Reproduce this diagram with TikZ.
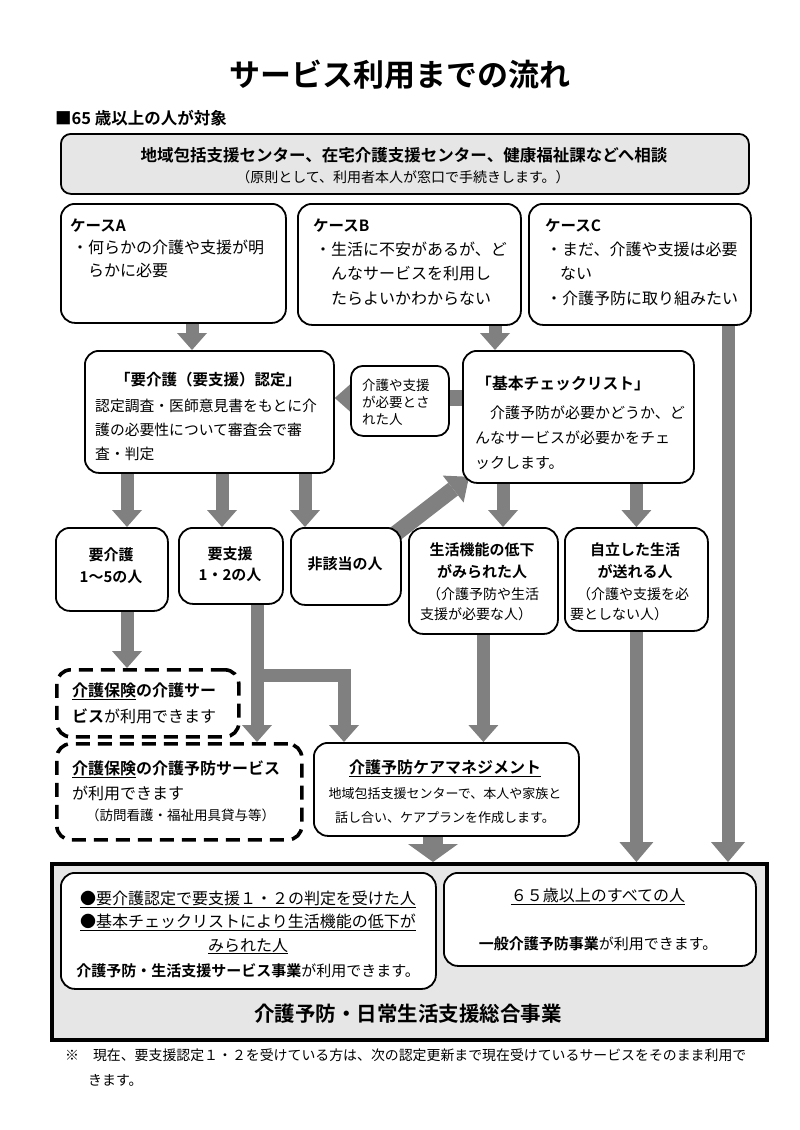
\documentclass[tikz,border=0pt]{standalone}
\usepackage{fontspec}
\setmainfont{Noto Sans CJK JP}[BoldFont={* Bold}]
\usetikzlibrary{arrows.meta}
\definecolor{arrgray}{RGB}{128,128,128}
\definecolor{boxgray}{RGB}{230,230,230}
\newcommand\myfs[2]{\fontsize{#1}{#2}\selectfont}
\pgfdeclarelayer{back}
\pgfdeclarelayer{bg}
\pgfsetlayers{back,bg,main}
\begin{document}
\begin{tikzpicture}[x=1pt,y=-1pt,
  box/.style={draw, line width=1.8pt, rounded corners=14pt, fill=white, inner sep=0pt, anchor=north west},
  dbox/.style={draw, line width=3.6pt, dash pattern=on 14pt off 8pt, rounded corners=14pt, inner sep=0pt, anchor=north west},
  txt/.style={inner sep=0pt, anchor=base west, align=left},
  ctxt/.style={inner sep=0pt, anchor=base, align=center},
  arr/.style={draw=arrgray, line width=13pt, -{Triangle[width=30pt,length=17pt,line width=0pt]}},
  arrL/.style={draw=arrgray, line width=13pt, -{Triangle[width=34pt,length=20pt,line width=0pt]}},
  arrH/.style={draw=arrgray, line width=16pt, -{Triangle[width=32pt,length=18pt,line width=0pt]}},
  arrD/.style={draw=arrgray, line width=16pt, -{Triangle[width=34pt,length=20pt,line width=0pt]}},
  arrB/.style={draw=arrgray, line width=20pt, -{Triangle[width=50pt,length=18pt,line width=0pt]}},
  ]
\begin{pgfonlayer}{back}
\fill[white] (0,0) rectangle (800,1130);
\end{pgfonlayer}
\useasboundingbox (0,0) rectangle (800,1130);

% title
\node[ctxt, font=\myfs{31}{36}\bfseries] (title) at (400,86) {サービス利用までの流れ};
\node[txt, font=\myfs{16.5}{20}\bfseries] (target) at (55,124) {■65 歳以上の人が対象};

% top box
\node[box, fill=boxgray, rounded corners=10pt, minimum width=688pt, minimum height=60pt] (top) at (60,133) {};
\node[ctxt, font=\myfs{16.5}{20}\bfseries] (top1) at (404,161) {地域包括支援センター、在宅介護支援センター、健康福祉課などへ相談};
\node[ctxt, font=\myfs{14}{18}] (top2) at (403,182) {（原則として、利用者本人が窓口で手続きします。）};

% cases
\node[box, minimum width=225pt, minimum height=119pt] (caseA) at (60,203) {};
\node[box, minimum width=223pt, minimum height=121pt] (caseB) at (297,203) {};
\node[box, minimum width=222pt, minimum height=121pt] (caseC) at (528,203) {};
\node[txt, font=\myfs{15.5}{20}\bfseries] (caseAt) at (70,231) {ケースA};
\node[txt, font=\myfs{15.5}{20}\bfseries] (caseBt) at (313,231) {ケースB};
\node[txt, font=\myfs{15.5}{20}\bfseries] (caseCt) at (545,231) {ケースC};
\node[txt, font=\myfs{16}{23}] (caseAb) at (72,276) {・何らかの介護や支援が明\\\hspace*{16pt}らかに必要};
\node[txt, font=\myfs{16}{24.5}] (caseBb) at (315,304) {・生活に不安があるが、ど\\\hspace*{16pt}んなサービスを利用し\\\hspace*{16pt}たらよいかわからない};
\node[txt, font=\myfs{16}{24.5}] (caseCb) at (546,304) {・まだ、介護や支援は必要\\\hspace*{14pt}ない\\・介護予防に取り組みたい};

% nintei
\node[box, minimum width=249pt, minimum height=122pt] (nintei) at (84,350) {};
\node[ctxt, font=\myfs{15.5}{20}\bfseries] (ninteit) at (208,385) {「要介護（要支援）認定」};
\node[txt, font=\myfs{14.8}{24.3}] (ninteib) at (95,459.6) {認定調査・医師意見書をもとに介\\護の必要性について審査会で審\\査・判定};

% small box
\node[box, rounded corners=12pt, minimum width=98pt, minimum height=70pt] (small) at (350,365) {};
\node[txt, font=\myfs{13.5}{17}] (smallt) at (362,424) {介護や支援\\が必要とさ\\れた人};

% checklist
\node[box, minimum width=231pt, minimum height=132pt] (check) at (462,350) {};
\node[txt, font=\myfs{15.8}{20}\bfseries] (checkt) at (476,389) {「基本チェックリスト」};
\node[txt, font=\myfs{15}{25}] (checkb) at (475,468) {\hspace*{15pt}介護予防が必要かどうか、ど\\んなサービスが必要かをチェ\\ックします。};

% row boxes
\node[box, minimum width=112pt, minimum height=83pt] (kaigo) at (55,527) {};
\node[ctxt, font=\myfs{15}{22}\bfseries] (kaigot) at (111,582) {要介護\\1～5の人};
\node[box, minimum width=104pt, minimum height=76pt] (shien) at (178,527) {};
\node[ctxt, font=\myfs{15}{21}\bfseries] (shient) at (230,580) {要支援\\1・2の人};
\node[box, minimum width=110pt, minimum height=77pt] (higai) at (290,527) {};
\node[ctxt, font=\myfs{15}{20}\bfseries] (higait) at (345,569) {非該当の人};
\node[box, minimum width=149pt, minimum height=106pt] (seik) at (408,527) {};
\node[ctxt, font=\myfs{15}{22}\bfseries] (seikt) at (482,577) {生活機能の低下\\がみられた人};
\node[txt, font=\myfs{14}{20}] (seikb) at (420,619) {\hspace*{7pt}（介護予防や生活\\支援が必要な人）};
\node[box, minimum width=143pt, minimum height=103pt] (jiri) at (564,527) {};
\node[ctxt, font=\myfs{15}{22}\bfseries] (jirit) at (635,577) {自立した生活\\が送れる人};
\node[txt, font=\myfs{14}{20}] (jirib) at (570,619) {\hspace*{7pt}（介護や支援を必\\要としない人）};

% dashed boxes
\node[dbox, minimum width=182pt, minimum height=67pt] (dash1) at (55,668) {};
\node[txt, font=\myfs{16}{26}] (dash1t) at (72,722) {\textbf{\underline{介護保険}の介護サー}\\\textbf{ビス}が利用できます};
\node[dbox, minimum width=245pt, minimum height=96pt] (dash2) at (55,742) {};
\node[txt, font=\myfs{16}{25}] (dash2t) at (72,799) {\textbf{\underline{介護保険}の介護予防サービス}\\が利用できます};
\node[txt, font=\myfs{13.5}{18}] (dash2b) at (86,820) {（訪問看護・福祉用具貸与等）};

% care management
\node[box, minimum width=265pt, minimum height=93pt] (care) at (313,742) {};
\node[ctxt, font=\myfs{16}{20}\bfseries] (caret) at (445,773) {\underline{介護予防ケアマネジメント}};
\node[ctxt, font=\myfs{13}{24}] (careb) at (445,822) {地域包括支援センターで、本人や家族と\\話し合い、ケアプランを作成します。};

% bottom
\node[draw, line width=4pt, fill=boxgray, inner sep=0pt, anchor=north west, minimum width=715pt, minimum height=176pt] (big) at (50,862) {};
\node[box, minimum width=375pt, minimum height=116pt] (inL) at (60,872) {};
\node[box, minimum width=312pt, minimum height=93pt] (inR) at (443,872) {};
\node[ctxt, font=\myfs{16}{23.5}] (inLt) at (248,951) {\underline{●要介護認定で要支援１・２の判定を受けた人}\\\underline{●基本チェックリストにより生活機能の低下が}\\\underline{みられた人}};
\node[ctxt, font=\myfs{15}{20}] (inLb) at (248,976) {\textbf{介護予防・生活支援サービス事業}が利用できます。};
\node[ctxt, font=\myfs{16}{20}] (inRt) at (598,901) {\underline{６５歳以上のすべての人}};
\node[ctxt, font=\myfs{15}{20}] (inRb) at (598,949) {\textbf{一般介護予防事業}が利用できます。};
\node[ctxt, font=\myfs{20.5}{24}\bfseries] (bigt) at (408,1021) {介護予防・日常生活支援総合事業};

% note
\node[txt, font=\myfs{13.9}{25}] (note) at (65,1085) {※　現在、要支援認定１・２を受けている方は、次の認定更新まで現在受けているサービスをそのまま利用で\\\hspace*{23pt}きます。};

% column coordinates
\coordinate (xA) at (192,0);
\coordinate (xB) at (495,0);
\coordinate (xC) at (728,0);
\coordinate (yH) at (0,398);
\coordinate (xN1) at (127,0);
\coordinate (xN2) at (222,0);
\coordinate (xN3) at (305,0);
\coordinate (xK1) at (503,0);
\coordinate (xS) at (257,0);
\coordinate (yBr) at (0,675);
\coordinate (xBr) at (344,0);
\coordinate (xCare) at (433,0);

\begin{pgfonlayer}{bg}
\draw[arr] (caseA.south -| xA) -- (nintei.north -| xA);
\draw[arr] (caseB.south -| xB) -- (check.north -| xB);
\draw[arrL] (caseC.south -| xC) -- (big.north -| xC);
\draw[arrH] (check.west |- yH) -- (nintei.east |- yH);
\draw[arr] (nintei.south -| xN1) -- (kaigo.north -| xN1);
\draw[arr] (nintei.south -| xN2) -- (shien.north -| xN2);
\draw[arr] (nintei.south -| xN3) -- (higai.north -| xN3);
\draw[arrD] ([xshift=-8pt,yshift=-8pt]higai.north east) -- ([xshift=7pt,yshift=7pt]check.south west);
\draw[arr] (check.south -| xK1) -- (seik.north -| xK1);
\draw[arr] (check.south -| jiri.north) -- (jiri.north);
\draw[arr] (kaigo.south -| xN1) -- (dash1.north -| xN1);
\draw[arr] (shien.south -| xS) -- (dash2.north -| xS);
\draw[arr, line join=miter] (xS |- yBr) -| (care.north -| xBr);
\draw[arr] (seik.south) -- (care.north -| seik.south);
\draw[arrL] (jiri.south) -- (big.north -| jiri.south);
\draw[arrB] (care.south -| xCare) -- (big.north -| xCare);
\end{pgfonlayer}
\end{tikzpicture}
\end{document}
